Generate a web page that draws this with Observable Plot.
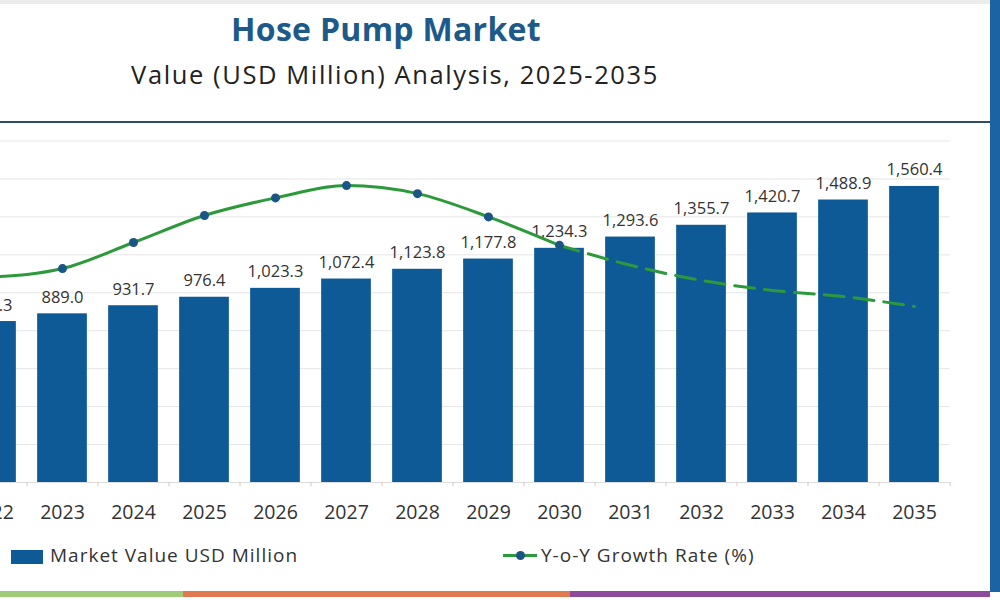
<!DOCTYPE html>
<html>
<head>
<meta charset="utf-8">
<script src="https://cdn.jsdelivr.net/npm/d3@7"></script>
<script src="https://cdn.jsdelivr.net/npm/@observablehq/plot@0.6"></script>
<style>
  html, body { margin: 0; padding: 0; background: #fff; }
  #wrap { position: relative; width: 1000px; height: 600px; overflow: hidden; background: #fff; font-family: "Open Sans", sans-serif; }
  #topband { position: absolute; left: 0; top: 0; width: 1000px; height: 4px; background: #ececec; }
  #title { position: absolute; left: 0; width: 772px; top: 7px; text-align: center; font-size: 32px; font-weight: 700; color: #1d5a8a; letter-spacing: 0.3px; }
  #subtitle { position: absolute; left: 0; width: 790px; top: 57px; text-align: center; font-size: 25.5px; color: #222; letter-spacing: 1.6px; }
  #hline { position: absolute; left: 0; top: 121px; width: 990px; height: 2px; background: #2f4d62; }
  #rbar { position: absolute; left: 990px; top: 0; width: 10px; height: 592px; background: #1b63a3; }
  #chart { position: absolute; left: -60px; top: 100px; }
  .leg { position: absolute; font-size: 19px; color: #333; letter-spacing: 1px; }
  #legBox { position: absolute; left: 11px; top: 550px; width: 32px; height: 14px; background: #0e5a96; }
  #legLine { position: absolute; left: 503px; top: 554px; width: 34px; height: 3px; background: #2c9a3a; }
  #legDot { position: absolute; left: 516px; top: 551px; width: 9px; height: 9px; border-radius: 50%; background: #1a5585; }
  .stripe { position: absolute; top: 591px; height: 6px; }
</style>
</head>
<body>
<div id="wrap">
  <div id="topband"></div>
  <div id="title">Hose Pump Market</div>
  <div id="subtitle">Value (USD Million) Analysis, 2025-2035</div>
  <div id="hline"></div>
  <div id="chart"></div>
  <div id="legBox"></div>
  <div class="leg" style="left:50px; top:542px;">Market Value USD Million</div>
  <div id="legLine"></div>
  <div id="legDot"></div>
  <div class="leg" style="left:541px; top:542px;">Y-o-Y Growth Rate (%)</div>
  <div class="stripe" style="left:0; width:183px; background:#9fcc78;"></div>
  <div class="stripe" style="left:183px; width:387px; background:#e0794f;"></div>
  <div class="stripe" style="left:570px; width:420px; background:#8f4b9b;"></div>
  <div id="rbar"></div>
</div>
<script>
// ---- data ----
const years = ["2022","2023","2024","2025","2026","2027","2028","2029","2030","2031","2032","2033","2034","2035"];
const marketValue = [848.3, 889.0, 931.7, 976.4, 1023.3, 1072.4, 1123.8, 1177.8, 1234.3, 1293.6, 1355.7, 1420.7, 1488.9, 1560.4];
// Y-o-Y growth line (read from the curve's shape; secondary axis is not shown)
const growthRate = [4.33, 4.51, 5.06, 5.63, 6.0, 6.26, 6.09, 5.6, 5.0, 4.58, 4.26, 4.05, 3.92, 3.71];
const lastActualYear = "2030";
const yTicks = [0, 200, 400, 600, 800, 1000, 1200, 1400, 1600, 1800];

// growth % mapped onto the value axis (hidden secondary axis)
const growthToAxis = g => g * 250;

const rows = years.map((year, i) => ({year, value: marketValue[i], g: growthRate[i]}));
const cut = years.indexOf(lastActualYear);
const solid = rows.slice(0, cut + 1);
const dashed = rows.slice(cut);
const fmt = d3.format(",.1f");

const chart = Plot.plot({
  width: 1060,
  height: 432,
  marginLeft: 15.5,
  marginRight: 50.5,
  marginTop: 31,
  marginBottom: 50,
  style: {fontFamily: "Open Sans, sans-serif", background: "transparent", overflow: "visible"},
  x: {type: "band", domain: years, paddingInner: 0.3, paddingOuter: 0.15, round: false, label: null},
  y: {domain: [0, 1850], axis: null},
  marks: [
    Plot.gridY(yTicks, {stroke: "#e6e6e6", strokeOpacity: 1}),
    Plot.ruleY([0], {stroke: "#dcdcdc"}),
    Plot.ruleX(years, {x: d => d, dx: 35.5, y1: 0, y2: -22, stroke: "#d8c8c0"}),
    Plot.barY(rows, {x: "year", y: "value", fill: "#0e5a96"}),
    Plot.text(rows, {x: "year", y: "value", text: d => fmt(d.value), dy: -11, lineAnchor: "bottom", fontSize: 16.5, fill: "#333", style: "letter-spacing: 0.6px"}),
    Plot.line(solid, {x: "year", y: d => growthToAxis(d.g), stroke: "#2c9a3a", strokeWidth: 3, curve: "monotone-x"}),
    Plot.line(dashed, {x: "year", y: d => growthToAxis(d.g), stroke: "#2c9a3a", strokeWidth: 3, curve: "monotone-x", strokeDasharray: "20,10"}),
    Plot.dot(solid, {x: "year", y: d => growthToAxis(d.g), r: 4.5, fill: "#1a5585"}),
    Plot.axisX({tickSize: 0, tickPadding: 23, fontSize: 19.5, fill: "#333", label: null, style: "letter-spacing: 0.8px"})
  ]
});
document.getElementById("chart").appendChild(chart);
</script>
</body>
</html>
